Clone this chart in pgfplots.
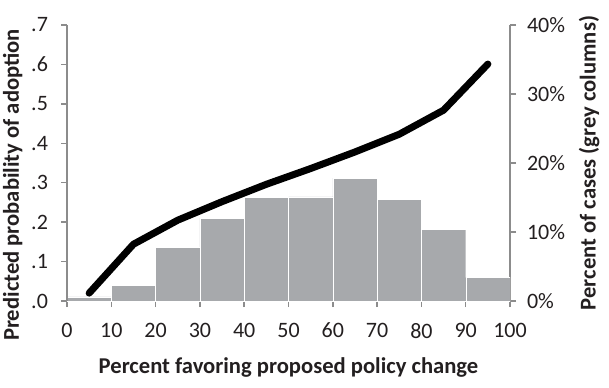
\documentclass[border=0pt]{standalone}
\usepackage{pgfplots}
\pgfplotsset{compat=1.18}
\usepackage{fontspec}
\setmainfont{Carlito}
\definecolor{bargrey}{HTML}{A7A9AC}
\definecolor{axgrey}{HTML}{8C8C8C}
\definecolor{txt}{HTML}{231F20}
\begin{document}
\begin{tikzpicture}
\path[use as bounding box] (-33.5pt,-43pt) rectangle (271pt,150.5pt);
\pgfplotsset{
  common/.style={
    scale only axis, width=221.5pt, height=138pt,
    xmin=0, xmax=100,
    axis line style={axgrey, line width=0.75pt},
    tick style={axgrey, line width=0.75pt},
    tick align=outside, major tick length=3pt,
    tick label style={font=\fontsize{11}{13}\selectfont, text=txt},
    label style={font=\bfseries\fontsize{11.3}{13}\selectfont, text=txt},
  }
}
% bars on right axis
\begin{axis}[common,
  axis y line*=right, axis x line*=bottom,
  ymin=0, ymax=40,
  xtick={0,10,...,100},
  xticklabels={0,10,20,30,40,50,60,70,80,90,100},
  ytick={0,10,20,30,40},
  yticklabels={0\%,10\%,20\%,30\%,40\%},
  xlabel={Percent favoring proposed policy change},
  ylabel={Percent of cases (grey columns)},
  xticklabel style={yshift=-4.5pt},
  xlabel style={yshift=-3pt},
  yticklabel style={xshift=2pt},
]
\addplot[ybar interval, fill=bargrey, draw=white, line width=0.2pt] coordinates {
 (0,0.6) (10,2.3) (20,7.75) (30,12.0) (40,15.0) (50,15.1) (60,17.8) (70,14.7) (80,10.4) (90,3.4) (100,3.4)
};
\end{axis}
% line on left axis
\begin{axis}[common,
  axis y line*=left, axis x line=none,
  ymin=0, ymax=0.7,
  ytick={0,0.1,0.2,0.3,0.4,0.5,0.6,0.7},
  yticklabels={.0,.1,.2,.3,.4,.5,.6,.7},
  ylabel={Predicted probability of adoption},
  ylabel style={xshift=-11pt, yshift=-2.5pt},
  yticklabel style={xshift=-3pt},
]
\addplot[black, line width=3.5pt, line cap=round, line join=round] coordinates {
 (5,0.02) (15,0.144) (25,0.205) (35,0.252) (45,0.296) (55,0.336) (65,0.378) (75,0.423) (85,0.484) (95,0.601)
};
\end{axis}
\end{tikzpicture}
\end{document}
